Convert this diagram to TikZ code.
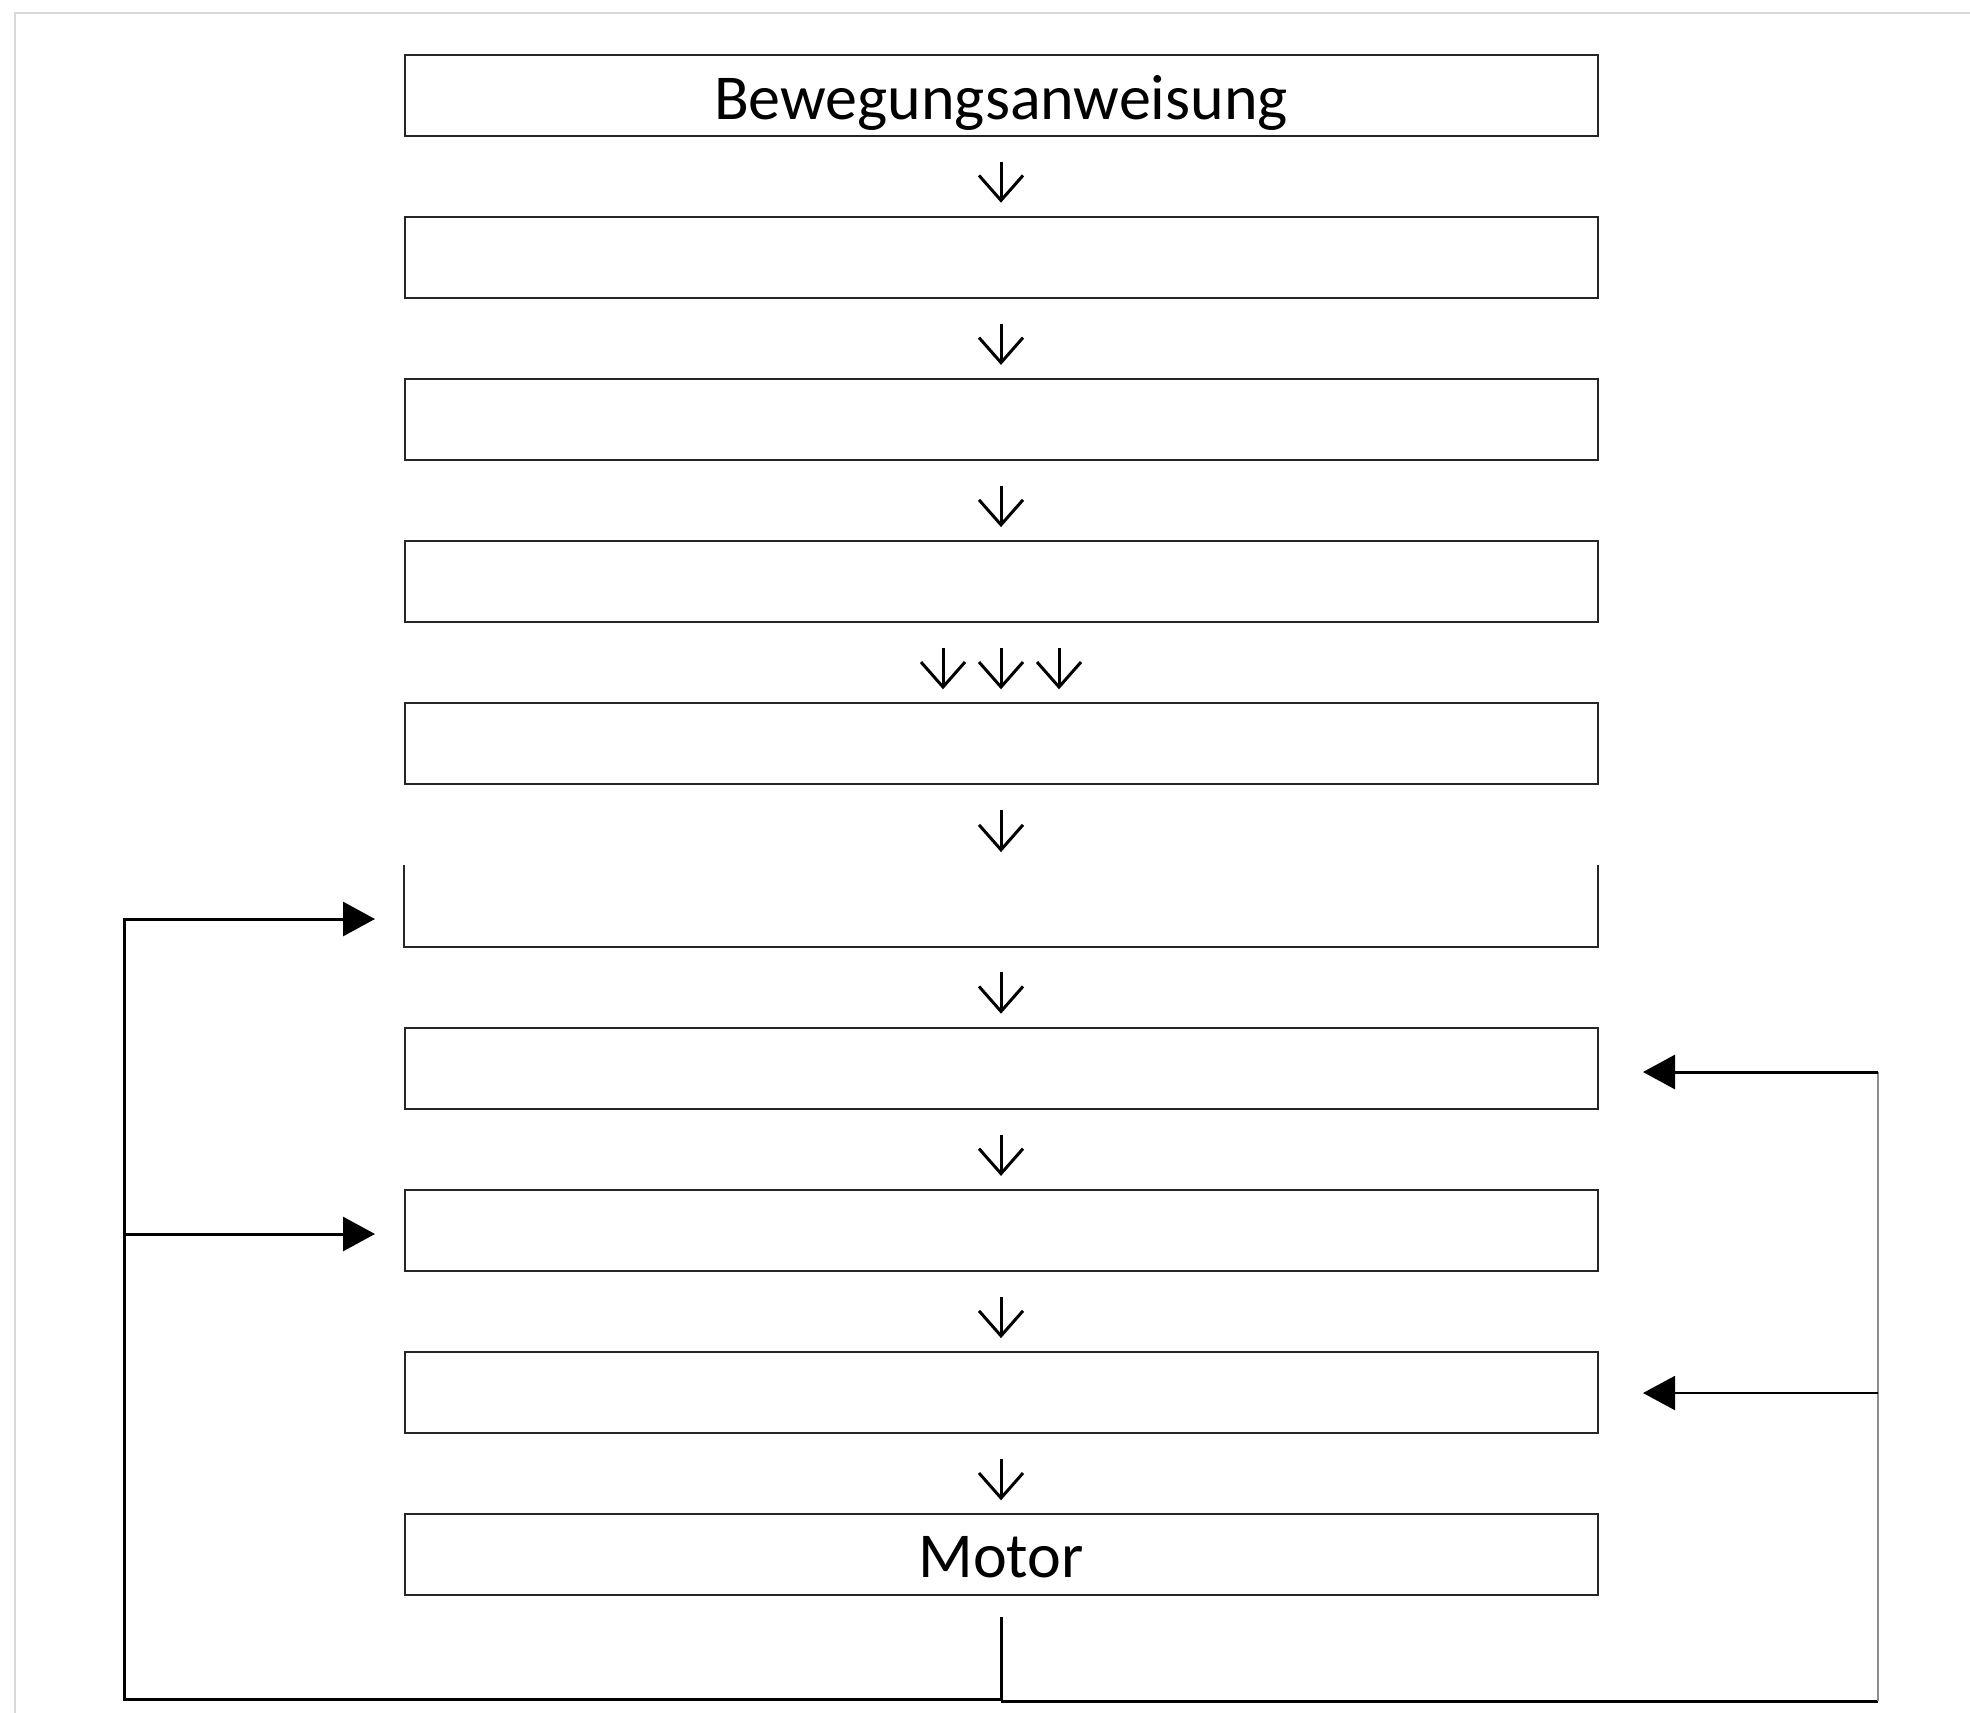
\documentclass[tikz,border=0pt]{standalone}
\usepackage{fontspec}
\setmainfont{Carlito}
\usetikzlibrary{arrows.meta,calc}
\tikzset{
  box/.style={minimum width=596.5pt, minimum height=40.5pt, inner sep=0pt, font=\fontsize{32}{38}\selectfont},
  boxline/.style={draw=black!85, line width=1pt},
  flow/.style={line width=1.5pt, -{Straight Barb[length=12.5pt,width=22pt,line width=1.5pt]}, shorten >=6.5pt, shorten <=12.5pt},
  fb/.style={line width=1.5pt, black},
  fbtip/.style={-{Triangle[length=16pt,width=17pt]}},
  frame/.style={draw=black!15, line width=1pt}
}
\begin{document}
\begin{tikzpicture}[x=0.5pt,y=-0.5pt]
\useasboundingbox (0,0) rectangle (1970,1713);
\draw[frame] (15,1713) -- (15,13) -- (1970,13);
% boxes
\node[box,boxline] (b1) at (1001,95) {\smash{\raisebox{-12pt}{Bewegungsanweisung}}};
\node[box,boxline] (b2) at (1001,257.2) {};
\node[box,boxline] (b3) at (1001,419.4) {};
\node[box,boxline] (b4) at (1001,581.6) {};
\node[box,boxline] (b5) at (1001,743.8) {};
\node[box] (b6) at (1001,906) {};
\draw[boxline] (b6.north west) -- (b6.south west) -- (b6.south east) -- (b6.north east);
\node[box,boxline] (b7) at (1001,1068.2) {};
\node[box,boxline] (b8) at (1001,1230.4) {};
\node[box,boxline] (b9) at (1001,1392.6) {};
\node[box,boxline] (b10) at (1001,1554.8) {\smash{\raisebox{-11.5pt}{Motor}}};
% flow arrows
\draw[flow] (b1.south) -- (b2.north);
\draw[flow] (b2.south) -- (b3.north);
\draw[flow] (b3.south) -- (b4.north);
\draw[flow] ($(b4.south)+(-58,0)$) -- ($(b5.north)+(-58,0)$);
\draw[flow] (b4.south) -- (b5.north);
\draw[flow] ($(b4.south)+(58,0)$) -- ($(b5.north)+(58,0)$);
\draw[flow] (b5.south) -- (b6.north);
\draw[flow] (b6.south) -- (b7.north);
\draw[flow] (b7.south) -- (b8.north);
\draw[flow] (b8.south) -- (b9.north);
\draw[flow] (b9.south) -- (b10.north);
% feedback
\coordinate (mb) at (1001,1617);
\coordinate (lc) at (124,1699);
\coordinate (l6) at (375,919);
\coordinate (l8) at (375,1234);
\coordinate (l8s) at (124,1234);
\coordinate (rb) at (1001,1701);
\coordinate (rc) at (1878,1701);
\coordinate (r7) at (1643,1072);
\coordinate (r9) at (1643,1393);
\coordinate (r9s) at (1878,1393);
\draw[fb,fbtip] (mb) -- (1001,1699) -- (lc) |- (l6);
\draw[fb,fbtip] (l8s) -- (l8);
\draw[line width=1.5pt] (rb) -- (rc);
\draw[line width=1pt, black!45] (rc) -- (1878,1072);
\draw[fb,fbtip] (1878,1072) -- (r7);
\draw[line width=1pt,fbtip] (r9s) -- (r9);
\end{tikzpicture}
\end{document}
